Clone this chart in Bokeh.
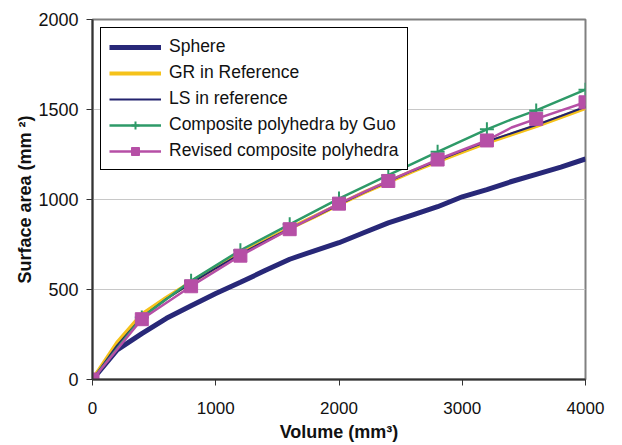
from bokeh.plotting import figure
from bokeh.models import Range1d, FixedTicker
from bokeh.embed import file_html
from bokeh.resources import INLINE

# Data
vol_fine = [0, 200, 400, 600, 800, 1000, 1200, 1400, 1600, 1800, 2000,
            2200, 2400, 2600, 2800, 3000, 3200, 3400, 3600, 3800, 4000]
sphere = [0, 165, 255, 340, 410, 478, 540, 605, 668, 715, 760,
          815, 870, 915, 960, 1015, 1055, 1100, 1140, 1180, 1225]
gr_ref = [0, 205, 362, 455, 540, 622, 700, 770, 840, 905, 972,
          1038, 1098, 1158, 1212, 1265, 1316, 1362, 1408, 1458, 1508]
ls_ref = [0, 190, 345, 448, 535, 618, 697, 768, 838, 904, 972,
          1038, 1100, 1160, 1216, 1270, 1322, 1368, 1414, 1464, 1515]

vol_guo = [0, 400, 800, 1200, 1600, 2000, 2400, 2800, 3200, 3400, 3600, 4000]
guo = [0, 345, 548, 718, 862, 1005, 1135, 1265, 1390, 1445, 1495, 1610]

vol_rev = [0, 400, 800, 1200, 1600, 2000, 2400, 2800, 3200, 3400, 3600, 4000]
revised = [0, 335, 518, 688, 835, 977, 1103, 1222, 1328, 1400, 1448, 1540]

marker_vol = [0, 400, 800, 1200, 1600, 2000, 2400, 2800, 3200, 3600, 4000]
guo_marks = [0, 345, 548, 718, 862, 1005, 1135, 1265, 1390, 1495, 1610]
rev_marks = [0, 335, 518, 688, 835, 977, 1103, 1222, 1328, 1448, 1540]

x_ticks = [0, 1000, 2000, 3000, 4000]
y_ticks = [0, 500, 1000, 1500, 2000]

p = figure(width=606, height=445, output_backend="svg", toolbar_location=None,
           x_range=Range1d(0, 4000), y_range=Range1d(0, 2000),
           min_border_left=92, min_border_right=21, min_border_top=19,
           min_border_bottom=66)

p.background_fill_color = "white"
p.border_fill_color = "white"
p.outline_line_color = "#808080"
p.outline_line_width = 2

p.xgrid.visible = False
p.ygrid.grid_line_color = "#c8c8c8"
p.ygrid.grid_line_width = 1
p.ygrid.ticker = FixedTicker(ticks=y_ticks)

p.xaxis.ticker = FixedTicker(ticks=x_ticks)
p.yaxis.ticker = FixedTicker(ticks=y_ticks)
for ax in (p.xaxis, p.yaxis):
    ax.axis_line_color = "#333333"
    ax.axis_line_width = 2
    ax.major_tick_line_color = "#333333"
    ax.major_tick_out = 6
    ax.major_tick_in = 0
    ax.minor_tick_line_color = None
    ax.major_label_text_font = "Liberation Sans"
    ax.major_label_text_color = "#111111"
    ax.axis_label_text_font = "Liberation Sans"
    ax.axis_label_text_font_style = "bold"
    ax.axis_label_text_font_size = "18px"
    ax.axis_label_text_color = "#111111"
p.xaxis.major_label_text_font_size = "17px"
p.yaxis.major_label_text_font_size = "18px"
p.xaxis.axis_label = "Volume (mm³)"
p.yaxis.axis_label = "Surface area (mm ²)"
p.xaxis.major_label_standoff = 16
p.yaxis.major_label_standoff = 8
p.xaxis.axis_label_standoff = 5
p.yaxis.axis_label_standoff = 0

p.line(vol_fine, sphere, line_color="#282878", line_width=5, legend_label="Sphere")
p.line(vol_fine, gr_ref, line_color="#F5C21B", line_width=4, legend_label="GR in Reference")
p.line(vol_fine, ls_ref, line_color="#23236E", line_width=2, legend_label="LS in reference")
p.line(vol_guo, guo, line_color="#2E9A68", line_width=2.5,
       legend_label="Composite polyhedra by Guo")
p.scatter(marker_vol, guo_marks, marker="cross", size=14, line_color="#2E9A68",
          line_width=2, legend_label="Composite polyhedra by Guo")
p.line(vol_rev, revised, line_color="#B64FA6", line_width=2.5,
       legend_label="Revised composite polyhedra")
p.scatter(marker_vol, rev_marks, marker="square", size=13, fill_color="#B64FA6",
          line_color="#B64FA6", legend_label="Revised composite polyhedra")

lg = p.legend[0]
lg.location = "top_left"
lg.margin = 8
lg.border_line_color = "black"
lg.border_line_width = 1
lg.background_fill_color = "white"
lg.background_fill_alpha = 1
lg.label_text_font = "Liberation Sans"
lg.label_text_font_size = "17.5px"
lg.label_text_color = "#111111"
lg.glyph_width = 52
lg.glyph_height = 20
lg.label_height = 20
lg.spacing = 5
lg.padding = 8
lg.label_standoff = 8
lg.border_line_alpha = 1

open("out.html", "w").write(file_html(p, INLINE))
